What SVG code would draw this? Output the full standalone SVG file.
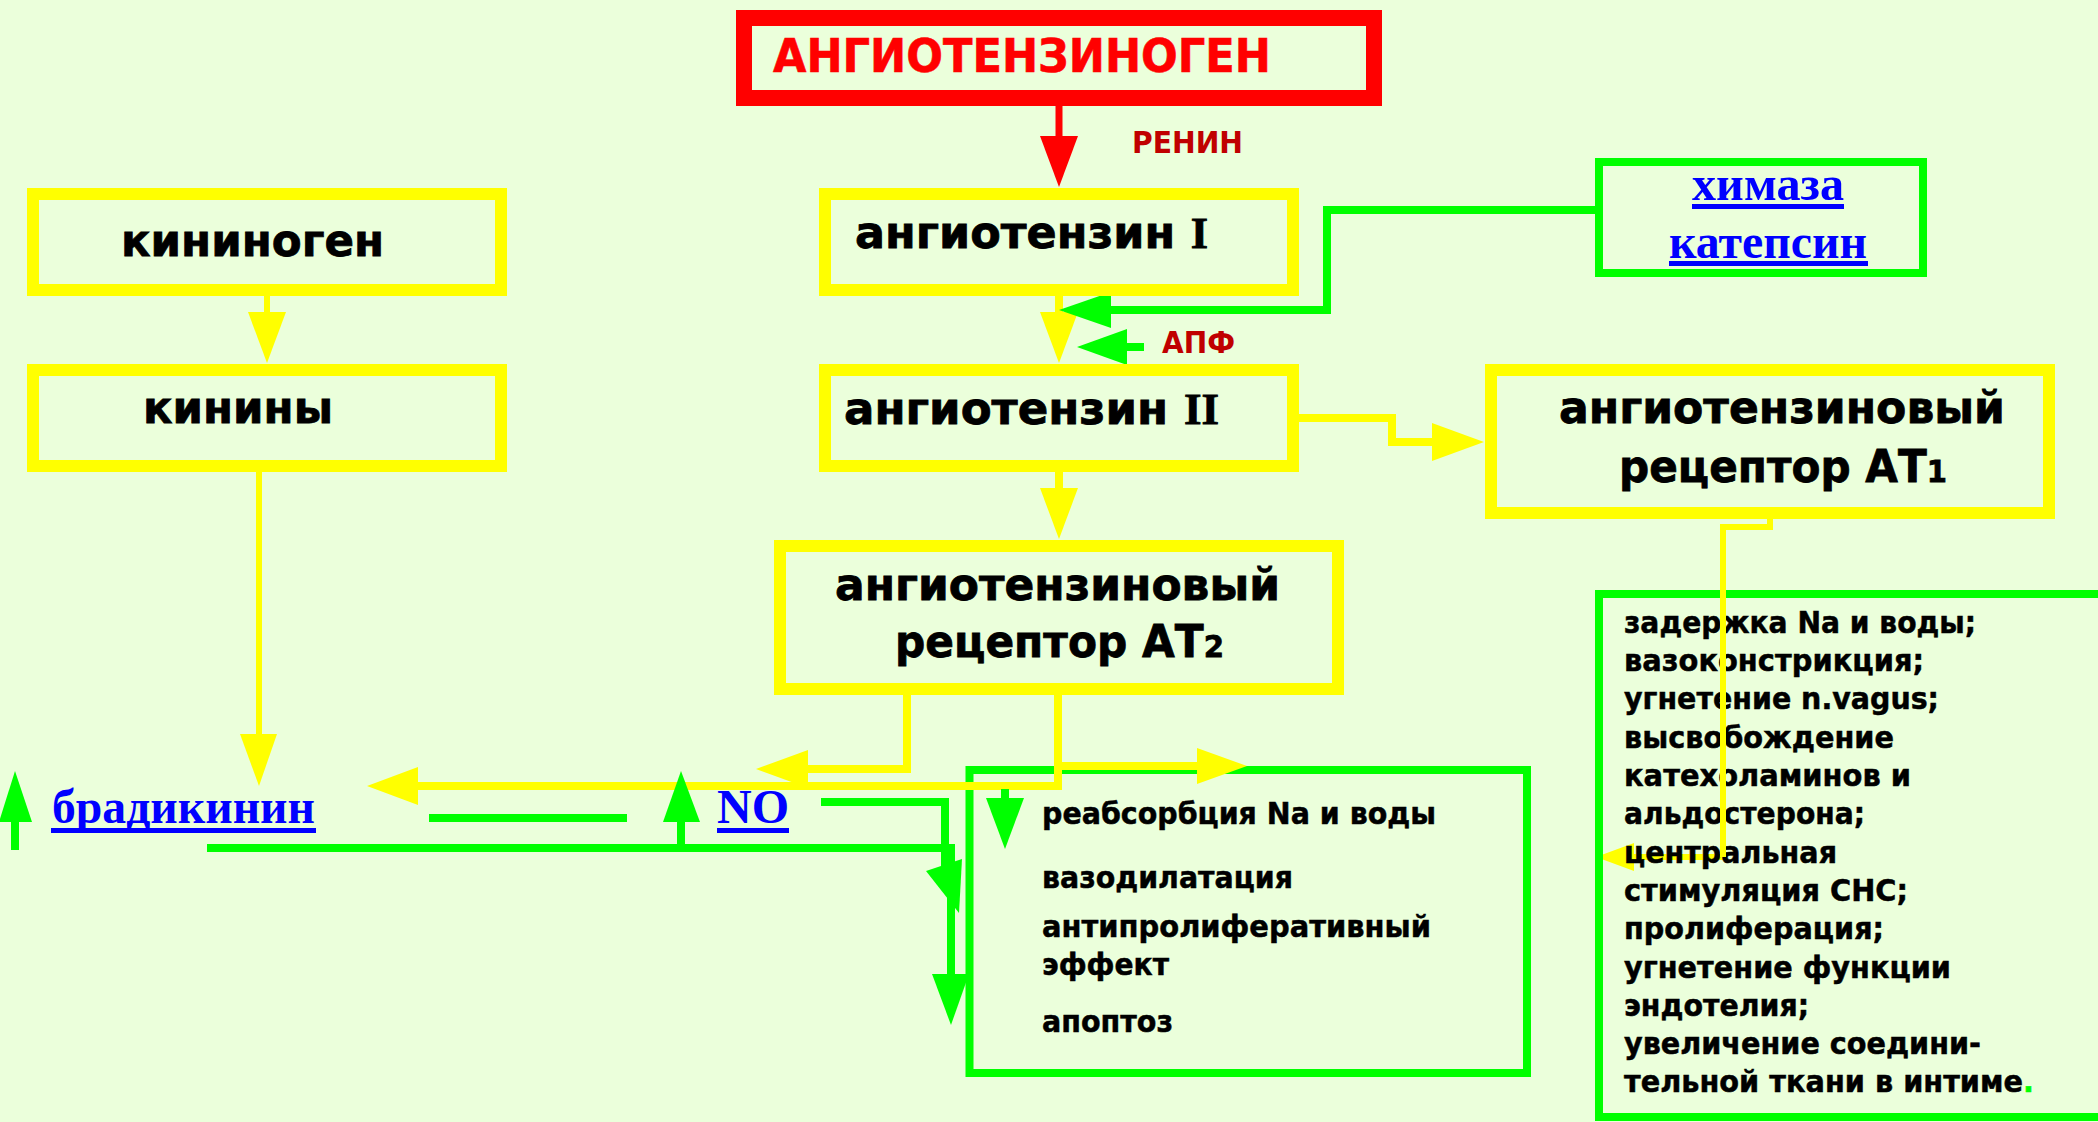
<svg xmlns="http://www.w3.org/2000/svg" width="2098" height="1122" viewBox="0 0 2098 1122">
  <style>
    .bg { fill: #EBFFDB; }
    .box-y { fill: none; stroke: #FFFF00; stroke-width: 12; }
    .box-g { fill: none; stroke: #00FF00; stroke-width: 8; }
    .box-r { fill: none; stroke: #FF0000; stroke-width: 16; }
    .ln-y { fill: none; stroke: #FFFF00; stroke-width: 8; stroke-linejoin: miter; stroke-linecap: butt; }
    .ln-y6 { fill: none; stroke: #FFFF00; stroke-width: 6; stroke-linejoin: miter; stroke-linecap: butt; }
    .ln-g { fill: none; stroke: #00FF00; stroke-width: 8; stroke-linejoin: miter; stroke-linecap: butt; }
    .ln-r { fill: none; stroke: #FF0000; stroke-width: 7; }
    .hd-y { fill: #FFFF00; }
    .hd-g { fill: #00FF00; }
    .hd-r { fill: #FF0000; }
    .title { font-family: "DejaVu Sans", "Liberation Sans", sans-serif; font-weight: bold; font-size: 45px; fill: #000; stroke: #000; stroke-width: 0.8; }
    .sub { font-size: 31px; }
    .roman { font-family: "Liberation Serif", serif; font-weight: bold; }
    .red-title { font-family: "DejaVu Sans", "Liberation Sans", sans-serif; font-weight: bold; font-size: 47px; fill: #FF0000; stroke: #FF0000; stroke-width: 0.6; }
    .enzyme { font-family: "DejaVu Sans", "Liberation Sans", sans-serif; font-weight: bold; font-size: 30px; fill: #C00000; }
    .link { font-family: "Liberation Serif", "Times New Roman", serif; font-weight: bold; font-size: 48px; fill: #0000FF; }
    .uline { fill: #0000FF; }
    .effect { font-family: "DejaVu Sans", "Liberation Sans", sans-serif; font-weight: bold; font-size: 30px; fill: #000; stroke: #000; stroke-width: 0.5; }
    .dot { fill: #00FF00; stroke: #00FF00; }
  </style>

  <rect class="bg" x="0" y="0" width="2098" height="1122"/>

  <!-- connectors -->
  <g id="connectors">
    <!-- renin step -->
    <line class="ln-r" x1="1059" y1="104" x2="1059" y2="138"/>
    <polygon class="hd-r" points="1040,136 1078,136 1059,187"/>

    <!-- kininogen to kinins -->
    <line class="ln-y6" x1="267" y1="294" x2="267" y2="314"/>
    <polygon class="hd-y" points="248,312 286,312 267,363"/>

    <!-- kinins to bradykinin -->
    <line class="ln-y6" x1="259" y1="470" x2="259" y2="736"/>
    <polygon class="hd-y" points="240,734 277,734 259,786"/>

    <!-- angiotensin I to II -->
    <line class="ln-y" x1="1059" y1="294" x2="1059" y2="314"/>
    <polygon class="hd-y" points="1040,312 1078,312 1059,363"/>

    <!-- chymase / cathepsin bypass -->
    <polyline class="ln-g" points="1597,210 1327,210 1327,310 1108,310"/>
    <polygon class="hd-g" points="1111,292 1111,328 1059,310"/>

    <!-- ACE -->
    <line class="ln-g" x1="1144" y1="347" x2="1125" y2="347"/>
    <polygon class="hd-g" points="1127,329 1127,365 1077,347"/>

    <!-- angiotensin II to AT2 -->
    <line class="ln-y" x1="1059" y1="470" x2="1059" y2="490"/>
    <polygon class="hd-y" points="1040,488 1078,488 1059,539"/>

    <!-- angiotensin II to AT1 -->
    <polyline class="ln-y" points="1297,418 1392,418 1392,442 1434,442"/>
    <polygon class="hd-y" points="1432,423 1432,461 1484,442"/>

    <!-- effects box outline sits under the yellow AT2 lines -->
    <rect class="box-g" x="969.5" y="770" width="557.5" height="303"/>

    <!-- AT2 outputs -->
    <polyline class="ln-y" points="907,693 907,769 806,769"/>
    <polygon class="hd-y" points="808,750 808,788 756,769"/>
    <polyline class="ln-y" points="1058,693 1058,786 416,786"/>
    <polygon class="hd-y" points="418,767 418,805 367,786"/>
    <line class="ln-y" x1="1058" y1="766" x2="1199" y2="766"/>
    <polygon class="hd-y" points="1197,748 1197,784 1247,766"/>

    <!-- AT1 to its effects -->
    <polyline class="ln-y6" points="1770,517 1770,527 1723,527 1723,857 1632,857"/>
    <polygon class="hd-y" points="1634,843 1634,871 1596,857"/>

    <!-- green feedback lines -->
    <line class="ln-g" x1="15" y1="850" x2="15" y2="820"/>
    <polygon class="hd-g" points="-1,822 32,822 15,771"/>
    <line class="ln-g" x1="429" y1="818" x2="627" y2="818"/>
    <polyline class="ln-g" points="207,848 951,848 951,976"/>
    <polygon class="hd-g" points="932,974 969,974 951,1025"/>
    <line class="ln-g" x1="681" y1="848" x2="681" y2="820"/>
    <polygon class="hd-g" points="663,822 700,822 681,771"/>
    <polyline class="ln-g" points="821,802 945,802 945,870"/>
    <polygon class="hd-g" points="926,871 962,859 959,913"/>
    <line class="ln-g" x1="1005" y1="789" x2="1005" y2="800"/>
    <polygon class="hd-g" points="986,798 1024,798 1005,849"/>
  </g>

  <!-- nodes -->
  <g id="angiotensinogen">
    <rect class="box-r" x="744" y="18" width="630" height="80"/>
    <text class="red-title" x="773" y="72" textLength="498" lengthAdjust="spacingAndGlyphs">АНГИОТЕНЗИНОГЕН</text>
  </g>
  <g id="renin">
    <text class="enzyme" x="1132" y="153" textLength="111" lengthAdjust="spacingAndGlyphs">РЕНИН</text>
  </g>
  <g id="ace">
    <text class="enzyme" x="1162" y="353" textLength="73" lengthAdjust="spacingAndGlyphs">АПФ</text>
  </g>
  <g id="kininogen">
    <rect class="box-y" x="33" y="194" width="468" height="96"/>
    <text class="title" x="121" y="256" textLength="263" lengthAdjust="spacingAndGlyphs">кининоген</text>
  </g>
  <g id="kinins">
    <rect class="box-y" x="33" y="370" width="468" height="96"/>
    <text class="title" x="143" y="423" textLength="190" lengthAdjust="spacingAndGlyphs">кинины</text>
  </g>
  <g id="angiotensin-1">
    <rect class="box-y" x="825" y="194" width="468" height="96"/>
    <text class="title" x="855" y="248" textLength="353" lengthAdjust="spacingAndGlyphs">ангиотензин <tspan class="roman">I</tspan></text>
  </g>
  <g id="angiotensin-2">
    <rect class="box-y" x="825" y="370" width="468" height="96"/>
    <text class="title" x="844" y="424" textLength="375" lengthAdjust="spacingAndGlyphs">ангиотензин <tspan class="roman">II</tspan></text>
  </g>
  <g id="chymase-cathepsin">
    <rect class="box-g" x="1599" y="162" width="324" height="111"/>
    <text class="link" x="1692" y="200" textLength="152" lengthAdjust="spacingAndGlyphs">химаза</text>
    <rect class="uline" x="1692" y="204" width="152" height="5"/>
    <text class="link" x="1669" y="258" textLength="198" lengthAdjust="spacingAndGlyphs">катепсин</text>
    <rect class="uline" x="1669" y="261" width="199" height="5"/>
  </g>
  <g id="receptor-at1">
    <rect class="box-y" x="1491" y="370" width="558" height="143"/>
    <text class="title" x="1559" y="423" textLength="446" lengthAdjust="spacingAndGlyphs">ангиотензиновый</text>
    <text class="title" x="1619" y="482" textLength="328" lengthAdjust="spacingAndGlyphs">рецептор АТ<tspan class="sub">1</tspan></text>
  </g>
  <g id="receptor-at2">
    <rect class="box-y" x="780" y="546" width="558" height="143"/>
    <text class="title" x="835" y="600" textLength="445" lengthAdjust="spacingAndGlyphs">ангиотензиновый</text>
    <text class="title" x="895" y="657" textLength="329" lengthAdjust="spacingAndGlyphs">рецептор АТ<tspan class="sub">2</tspan></text>
  </g>
  <g id="bradykinin">
    <text class="link" x="52" y="823" textLength="263" lengthAdjust="spacingAndGlyphs">брадикинин</text>
    <rect class="uline" x="51" y="828" width="265" height="5"/>
  </g>
  <g id="nitric-oxide">
    <text class="link" x="717" y="823" textLength="72" lengthAdjust="spacingAndGlyphs">NO</text>
    <rect class="uline" x="717" y="828" width="72" height="5"/>
  </g>
  <g id="at2-effects">
    <text class="effect" x="1042" y="824" textLength="394" lengthAdjust="spacingAndGlyphs">реабсорбция Na и воды</text>
    <text class="effect" x="1042" y="888" textLength="251" lengthAdjust="spacingAndGlyphs">вазодилатация</text>
    <text class="effect" x="1042" y="937" textLength="389" lengthAdjust="spacingAndGlyphs">антипролиферативный</text>
    <text class="effect" x="1042" y="975" textLength="127" lengthAdjust="spacingAndGlyphs">эффект</text>
    <text class="effect" x="1042" y="1032" textLength="131" lengthAdjust="spacingAndGlyphs">апоптоз</text>
  </g>
  <g id="at1-effects">
    <rect class="box-g" x="1599" y="594" width="520" height="523"/>
    <text class="effect" x="1624" y="633" textLength="352" lengthAdjust="spacingAndGlyphs">задержка Na и воды;</text>
    <text class="effect" x="1624" y="671" textLength="300" lengthAdjust="spacingAndGlyphs">вазоконстрикция;</text>
    <text class="effect" x="1624" y="709" textLength="315" lengthAdjust="spacingAndGlyphs">угнетение n.vagus;</text>
    <text class="effect" x="1624" y="748" textLength="270" lengthAdjust="spacingAndGlyphs">высвобождение</text>
    <text class="effect" x="1624" y="786" textLength="287" lengthAdjust="spacingAndGlyphs">катехоламинов и</text>
    <text class="effect" x="1624" y="824" textLength="241" lengthAdjust="spacingAndGlyphs">альдостерона;</text>
    <text class="effect" x="1624" y="863" textLength="213" lengthAdjust="spacingAndGlyphs">центральная</text>
    <text class="effect" x="1624" y="901" textLength="284" lengthAdjust="spacingAndGlyphs">стимуляция СНС;</text>
    <text class="effect" x="1624" y="939" textLength="260" lengthAdjust="spacingAndGlyphs">пролиферация;</text>
    <text class="effect" x="1624" y="978" textLength="327" lengthAdjust="spacingAndGlyphs">угнетение функции</text>
    <text class="effect" x="1624" y="1016" textLength="185" lengthAdjust="spacingAndGlyphs">эндотелия;</text>
    <text class="effect" x="1624" y="1054" textLength="357" lengthAdjust="spacingAndGlyphs">увеличение соедини-</text>
    <text class="effect" x="1624" y="1092" textLength="410" lengthAdjust="spacingAndGlyphs">тельной ткани в интиме<tspan class="dot">.</tspan></text>
  </g>
  <!-- AT1 line drawn over its effect list -->
  <polyline class="ln-y6" points="1723,590 1723,857"/>
</svg>
